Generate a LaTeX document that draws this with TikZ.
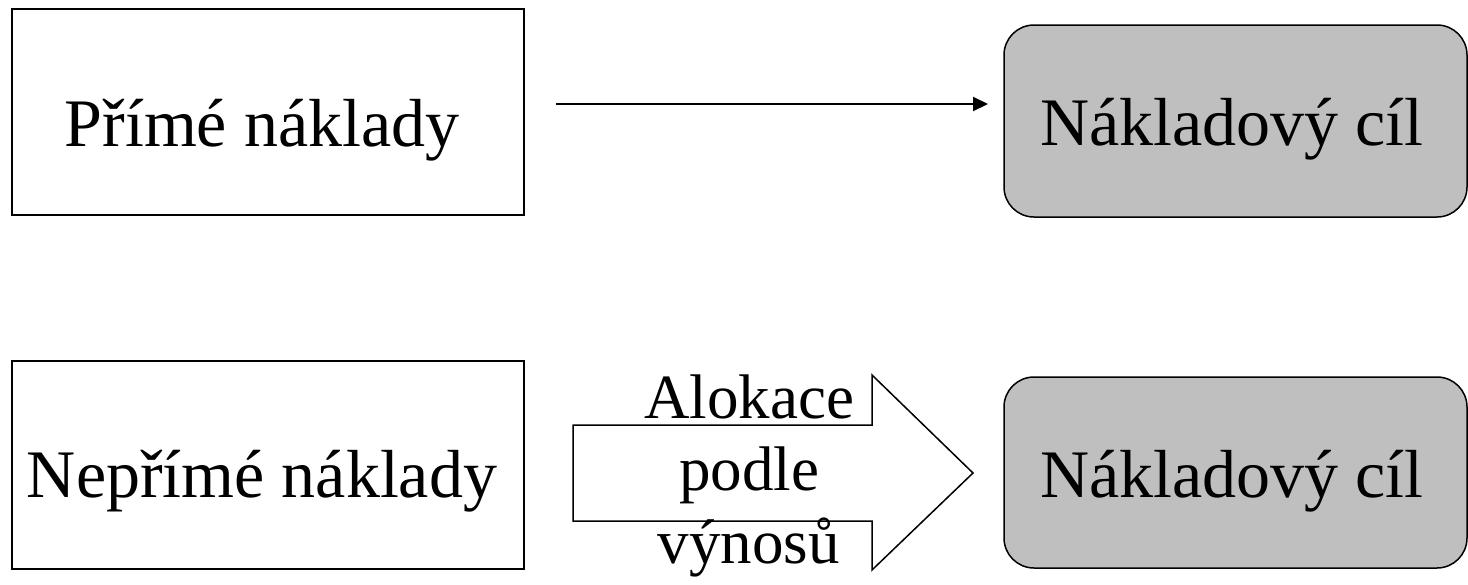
\documentclass[tikz,border=0pt]{standalone}
\usepackage{fontspec}
\setmainfont{Liberation Serif}
\usetikzlibrary{arrows.meta}
\tikzset{
  plainbox/.style={draw=black, line width=1.5pt, fill=white, rectangle, minimum width=512pt, inner sep=0pt},
  goalbox/.style={draw=black, line width=1.5pt, fill=black!25, rectangle, rounded corners=30pt, minimum width=463pt, inner sep=0pt},
  boxtext/.style={font=\fontsize{68}{80}\selectfont, inner sep=0pt, anchor=base},
  thinarrow/.style={line width=2pt, -{Triangle[length=15pt,width=14pt]}},
  blockarrow/.style={draw=black, line width=1.5pt, fill=white, line join=miter},
  arrowtext/.style={align=center, font=\fontsize{63}{72.5}\selectfont, inner sep=0pt, anchor=base}
}
\begin{document}
\begin{tikzpicture}[x=1pt,y=-1pt]
\useasboundingbox (0,0) rectangle (1468,584);
% top row
\node[plainbox, minimum height=206pt] (p1) at (268,112) {};
\node[boxtext] (t1) at (262,146) {Přímé náklady};
\node[goalbox, minimum height=192pt] (c1) at (1235.5,121) {};
\node[boxtext] (t2) at (1232,145) {Nákladový cíl};
\coordinate (a1s) at (556,104);
\coordinate (a1e) at (988,104);
\draw[thinarrow] (a1s) -- (a1e);
% bottom row
\node[plainbox, minimum height=208pt] (p2) at (268,465) {};
\node[boxtext] (t3) at (262,497) {Nepřímé náklady};
\node[goalbox, minimum height=191pt] (c2) at (1235.5,472.5) {};
\node[boxtext] (t4) at (1232,497) {Nákladový cíl};
\coordinate (b1) at (573,425);
\coordinate (b2) at (872,425);
\coordinate (b3) at (872,375);
\coordinate (b4) at (973,473);
\coordinate (b5) at (872,570);
\coordinate (b6) at (872,521);
\coordinate (b7) at (573,521);
\draw[blockarrow] (b1) -- (b2) -- (b3) -- (b4) -- (b5) -- (b6) -- (b7) -- cycle;
\node[arrowtext] (alloc) at (749,563) {Alokace\\podle\\výnosů};
\end{tikzpicture}
\end{document}
